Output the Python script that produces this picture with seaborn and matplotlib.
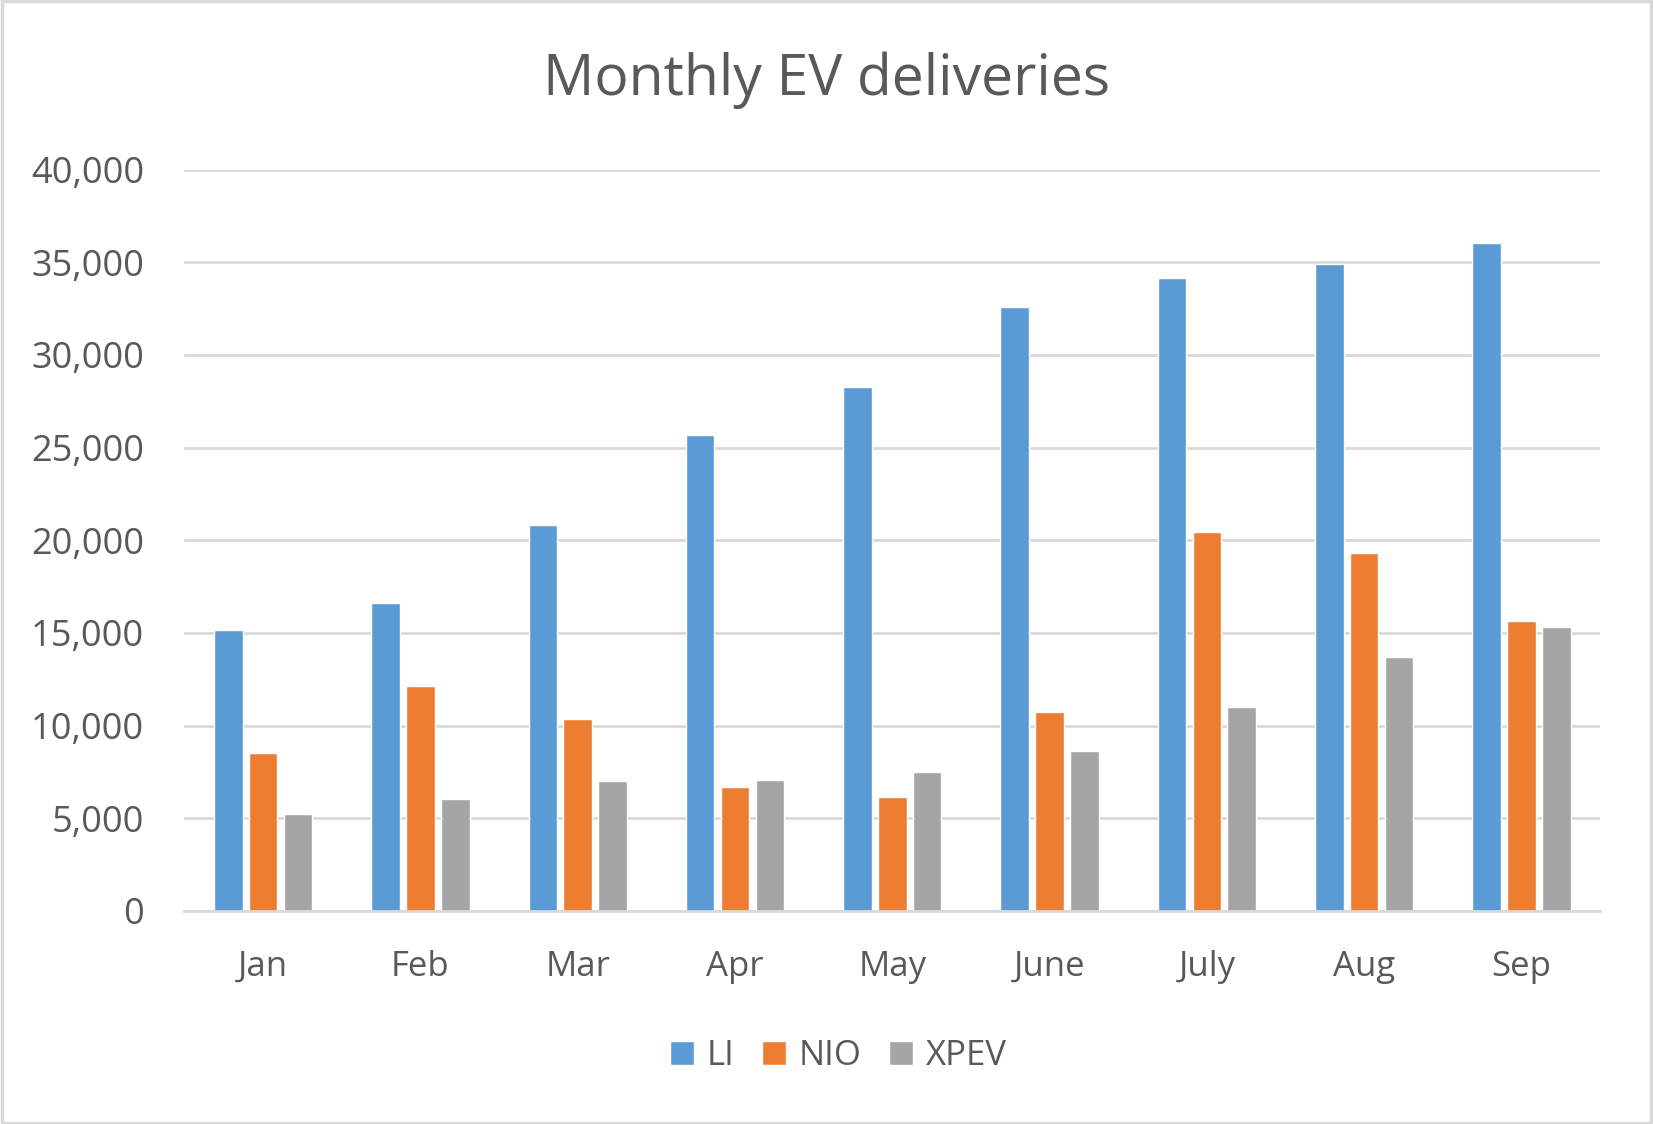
import pandas as pd
import seaborn as sns
import matplotlib.pyplot as plt
from matplotlib.ticker import FuncFormatter, MultipleLocator
from matplotlib.patches import Rectangle

# data
months = ['Jan', 'Feb', 'Mar', 'Apr', 'May', 'June', 'July', 'Aug', 'Sep']
li = [15141, 16620, 20823, 25681, 28277, 32575, 34134, 34914, 36060]
nio = [8506, 12157, 10378, 6658, 6155, 10707, 20462, 19329, 15641]
xpev = [5218, 6010, 7002, 7079, 7506, 8620, 11008, 13690, 15310]
brands = ['LI', 'NIO', 'XPEV']
colors = ['#5B9BD5', '#ED7D31', '#A5A5A5']

df = pd.DataFrame({'Month': months * 3,
                   'Brand': [b for b in brands for _ in months],
                   'Deliveries': li + nio + xpev})

sns.set_style('white')
plt.rcParams['font.family'] = ['Open Sans', 'DejaVu Sans']
text_col = '#595959'

fig = plt.figure(figsize=(16.53, 11.24), dpi=100)
ax = fig.add_axes([0.1116, 0.1897, 0.968 - 0.1116, 0.849 - 0.1897])

sns.barplot(data=df, x='Month', y='Deliveries', hue='Brand', order=months,
            hue_order=brands, palette=colors, width=0.664, gap=0.18,
            saturation=1, ax=ax, errorbar=None)

ax.set_xlim(-0.5, 8.5)
ax.set_ylim(0, 40000)
ax.yaxis.set_major_locator(MultipleLocator(5000))
ax.yaxis.set_major_formatter(FuncFormatter(lambda v, p: f'{int(v):,}'))
ax.grid(True, axis='y', color='#D9D9D9', linewidth=2)
ax.set_axisbelow(True)
for s in ['top', 'right', 'left']:
    ax.spines[s].set_visible(False)
ax.spines['bottom'].set_color('#D9D9D9')
ax.spines['bottom'].set_linewidth(2)
ax.tick_params(axis='y', length=0, pad=29, labelsize=26, labelcolor=text_col)
ax.tick_params(axis='x', length=0, pad=28, labelsize=25, labelcolor=text_col)
ax.set_xlabel('')
ax.set_ylabel('')

fig.text(0.5, 1 - 80 / 1124, 'Monthly EV deliveries', ha='center', va='center',
         fontsize=41, color=text_col)

ax.legend(loc='center', bbox_to_anchor=(0.507, 1 - 1056 / 1124),
          bbox_transform=fig.transFigure, ncol=3, frameon=False,
          fontsize=25, labelcolor=text_col, handlelength=0.7, handleheight=0.7,
          handletextpad=0.35, columnspacing=0.8)

fig.patches.append(Rectangle((0.001, 0.001), 0.998, 0.998, transform=fig.transFigure,
                             fill=False, edgecolor='#D9D9D9', linewidth=2.5))

fig.savefig('out.png', dpi=100, facecolor='white')
